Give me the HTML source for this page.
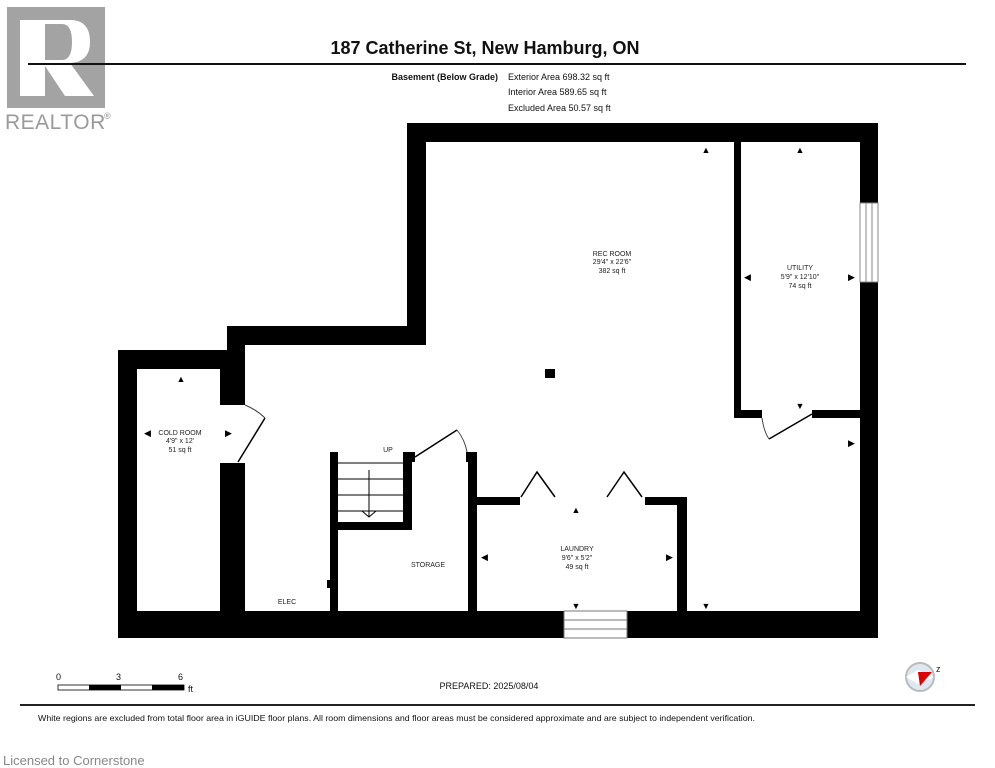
<!DOCTYPE html>
<html><head><meta charset="utf-8"><style>
body{margin:0;background:#fff;}
svg{display:block;}
text{font-family:"Liberation Sans",Arial,sans-serif;}
</style></head><body>
<svg width="995" height="768" viewBox="0 0 995 768" xmlns="http://www.w3.org/2000/svg">
<!-- logo -->
<rect x="7" y="7" width="98" height="101" fill="#a3a3a3"/>
<path d="M20 20 H70 Q90 20 90 42 Q90 62 70 63 L94 96 H65 L45 66 V96 H20 Z M45 24 V60 H62 Q72 60 72 42 Q72 24 62 24 Z" fill="#fff" fill-rule="evenodd"/>
<text x="5" y="129" font-size="21" fill="#9a9a9a" letter-spacing="0.5">REALTOR</text>
<text x="104" y="119" font-size="9" fill="#9a9a9a">®</text>
<!-- header -->
<text x="485" y="54" font-size="18" font-weight="bold" text-anchor="middle" fill="#111">187 Catherine St, New Hamburg, ON</text>
<line x1="28" y1="64" x2="966" y2="64" stroke="#111" stroke-width="2"/>
<text x="498" y="80" font-size="9" font-weight="bold" text-anchor="end" fill="#111">Basement (Below Grade)</text>
<text x="508" y="80" font-size="9" fill="#111">Exterior Area 698.32 sq ft</text>
<text x="508" y="95" font-size="9" fill="#111">Interior Area 589.65 sq ft</text>
<text x="508" y="111" font-size="9" fill="#111">Excluded Area 50.57 sq ft</text>
<!-- walls -->
<g fill="#000">
<rect x="407" y="123" width="471" height="19"/>
<rect x="860" y="123" width="18" height="80"/>
<rect x="860" y="282" width="18" height="356"/>
<rect x="407" y="123" width="19" height="222"/>
<rect x="227" y="326" width="199" height="19"/>
<rect x="227" y="326" width="18" height="79"/>
<rect x="118" y="350" width="127" height="19"/>
<rect x="220" y="350" width="25" height="55"/>
<rect x="118" y="350" width="19" height="288"/>
<rect x="220" y="463" width="25" height="175"/>
<rect x="118" y="611" width="446" height="27"/>
<rect x="627" y="611" width="251" height="27"/>
<rect x="330" y="452" width="8" height="160"/>
<rect x="403" y="452" width="9" height="78"/>
<rect x="337" y="522" width="75" height="8"/>
<rect x="403" y="452" width="12" height="10"/>
<rect x="468" y="452" width="9" height="160"/>
<rect x="466" y="452" width="11" height="10"/>
<rect x="477" y="497" width="43" height="8"/>
<rect x="645" y="497" width="42" height="8"/>
<rect x="677" y="497" width="10" height="115"/>
<rect x="734" y="142" width="7" height="276"/>
<rect x="734" y="410" width="28" height="8"/>
<rect x="812" y="410" width="48" height="8"/>
<rect x="545" y="369" width="10" height="9"/>
<rect x="241" y="580" width="4" height="8"/>
<rect x="327" y="580" width="4" height="8"/>
</g>
<!-- window -->
<g stroke="#888" stroke-width="1" fill="#fff">
<rect x="860" y="203" width="18" height="79"/>
<line x1="866" y1="203" x2="866" y2="282"/><line x1="872" y1="203" x2="872" y2="282"/>
</g>
<!-- exterior stairs -->
<g stroke="#777" stroke-width="1" fill="#fff">
<rect x="564" y="611" width="63" height="27"/>
<line x1="564" y1="620" x2="627" y2="620"/><line x1="564" y1="629" x2="627" y2="629"/>
</g>
<!-- stairs -->
<g stroke="#000" stroke-width="1" fill="none">
<line x1="338" y1="463" x2="403" y2="463"/>
<line x1="338" y1="479" x2="403" y2="479"/>
<line x1="338" y1="495" x2="403" y2="495"/>
<line x1="338" y1="511" x2="403" y2="511"/>
<line x1="369" y1="470" x2="369" y2="517"/>
<polyline points="362,511 369,517 376,511"/>
<!-- doors -->
<line x1="238" y1="462" x2="265" y2="418" stroke-width="1.5"/>
<path d="M245 405 Q257 410 265 418" stroke="#444"/>
<line x1="415" y1="457" x2="457" y2="430" stroke-width="1.5"/>
<path d="M457 430 Q465 440 467 452" stroke="#444"/>
<polyline points="521,497 537,472 555,497" stroke-width="1.5"/>
<polyline points="607,497 624,472 642,497" stroke-width="1.5"/>
<line x1="769" y1="439" x2="812" y2="414" stroke-width="1.5"/>
<path d="M762 418 Q764 432 769 439" stroke="#444"/>
</g>
<!-- dimension arrows -->
<g fill="#000" font-size="10">
<text x="181" y="382" text-anchor="middle" font-size="9">▲</text>
<text x="181" y="618" text-anchor="middle" font-size="9">▼</text>
<text x="144" y="436" font-size="9">◀</text>
<text x="225" y="436" font-size="9">▶</text>
<text x="706" y="153" text-anchor="middle" font-size="9">▲</text>
<text x="800" y="153" text-anchor="middle" font-size="9">▲</text>
<text x="744" y="280" font-size="9">◀</text>
<text x="848" y="280" font-size="9">▶</text>
<text x="800" y="409" text-anchor="middle" font-size="9">▼</text>
<text x="848" y="446" font-size="9">▶</text>
<text x="706" y="609" text-anchor="middle" font-size="9">▼</text>
<text x="576" y="513" text-anchor="middle" font-size="9">▲</text>
<text x="576" y="609" text-anchor="middle" font-size="9">▼</text>
<text x="481" y="560" font-size="9">◀</text>
<text x="666" y="560" font-size="9">▶</text>
</g>
<!-- labels -->
<g font-size="7" fill="#222" text-anchor="middle">
<text x="612" y="256">REC ROOM</text><text x="612" y="264">29'4" x 22'6"</text><text x="612" y="273">382 sq ft</text>
<text x="800" y="270">UTILITY</text><text x="800" y="279">5'9" x 12'10"</text><text x="800" y="288">74 sq ft</text>
<text x="180" y="435">COLD ROOM</text><text x="180" y="443">4'9" x 12'</text><text x="180" y="452">51 sq ft</text>
<text x="577" y="551">LAUNDRY</text><text x="577" y="560">9'6" x 5'2"</text><text x="577" y="569">49 sq ft</text>
<text x="428" y="567">STORAGE</text>
<text x="287" y="604">ELEC</text>
<text x="388" y="452">UP</text>
</g>
<!-- footer -->
<g font-size="9" fill="#111">
<text x="56" y="680">0</text><text x="116" y="680">3</text><text x="178" y="680">6</text>
<text x="188" y="692">ft</text>
</g>
<rect x="58" y="685" width="126" height="5" fill="#fff" stroke="#000" stroke-width="0.8"/>
<rect x="89" y="685" width="32" height="5" fill="#000"/>
<rect x="152" y="685" width="32" height="5" fill="#000"/>
<text x="489" y="689" font-size="9" text-anchor="middle" fill="#111">PREPARED: 2025/08/04</text>
<circle cx="920" cy="677" r="14" fill="#dde8f0" stroke="#bbb" stroke-width="2"/>
<path d="M906 677 L918 670 L934 677 L918 684 Z" fill="#fff"/>
<path d="M918 672 L932 672 L920 686 Z" fill="#d00"/>
<text x="936" y="672" font-size="9" fill="#222">z</text>
<line x1="20" y1="705" x2="975" y2="705" stroke="#222" stroke-width="2"/>
<text x="38" y="721" font-size="8.5" fill="#111" textLength="717" lengthAdjust="spacingAndGlyphs">White regions are excluded from total floor area in iGUIDE floor plans. All room dimensions and floor areas must be considered approximate and are subject to independent verification.</text>
<text x="3" y="765" font-size="13" fill="#888">Licensed to Cornerstone</text>
</svg>
</body></html>
